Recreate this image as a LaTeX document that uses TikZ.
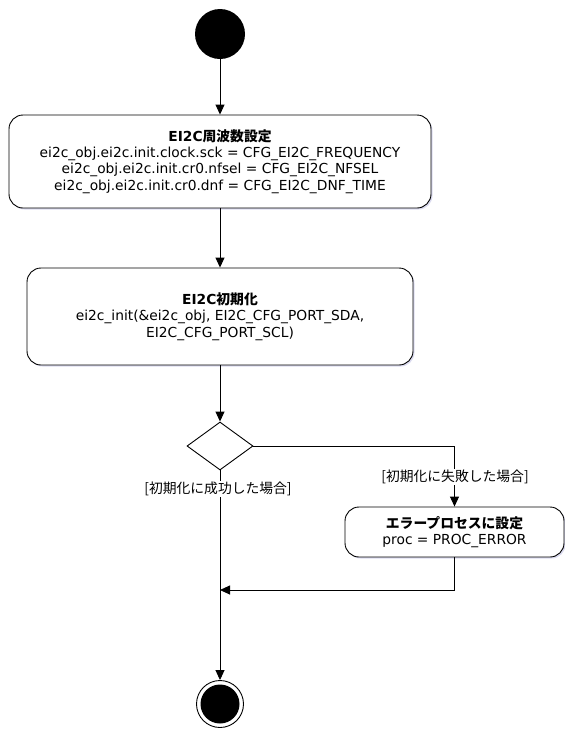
\documentclass[tikz,border=0pt]{standalone}
\usepackage{fontspec}
\setmainfont{DejaVu Sans}
\newfontfamily\jafont{Noto Sans CJK JP}
\usetikzlibrary{arrows.meta,shapes.geometric,shadows}
\newcommand{\ja}[1]{{\jafont #1}}

\begin{document}
\begin{tikzpicture}[x=1pt,y=-1pt,
    every node/.style={font=\fontsize{13.8}{16.3}\selectfont},
    action/.style={draw,line width=0.9pt,rounded corners=14pt,align=center,
      inner sep=0pt,fill=white,
      drop shadow={shadow xshift=1.5pt,shadow yshift=-1.5pt,fill=blue!40!gray,opacity=0.2}},
    flow/.style={line width=0.9pt,-{Triangle[length=10pt,width=9pt]}},
    guard/.style={fill=white,inner sep=1pt}]
  \useasboundingbox (0,0) rectangle (565,729);

  % start and end
  \node[circle,fill=black,minimum size=50pt,inner sep=0pt] (init) at (220,34) {};
  \node[circle,draw,line width=0.9pt,minimum size=47pt,inner sep=0pt] (final) at (220,704) {};
  \fill (final.center) circle (19.5pt);

  % actions
  \node[action,minimum width=422pt,minimum height=93pt] (freq) at (220,161.5)
    {\textbf{EI2C\ja{周波数設定}}\\
     ei2c\_obj.ei2c.init.clock.sck = CFG\_EI2C\_FREQUENCY\\
     ei2c\_obj.ei2c.init.cr0.nfsel = CFG\_EI2C\_NFSEL\\
     ei2c\_obj.ei2c.init.cr0.dnf = CFG\_EI2C\_DNF\_TIME};
  \node[action,minimum width=386pt,minimum height=97pt] (setup) at (220,316.5)
    {\textbf{EI2C\ja{初期化}}\\
     ei2c\_init(\&ei2c\_obj, EI2C\_CFG\_PORT\_SDA,\\
     EI2C\_CFG\_PORT\_SCL)};
  \node[diamond,draw,line width=0.9pt,minimum width=66pt,minimum height=48pt,
    inner sep=0pt] (check) at (220,446) {};
  \node[action,minimum width=219pt,minimum height=50pt] (error) at (454.5,532)
    {\textbf{\ja{エラープロセスに設定}}\\
     proc = PROC\_ERROR};
  \coordinate (join) at (220,590);

  % connectors
  \draw[flow] (init) -- (freq);
  \draw[flow] (freq) -- (setup);
  \draw[flow] (setup) -- (check);
  \draw[flow] (check.east) -| (error.north);
  \draw[flow] (check.south) -- (final);
  \draw[flow] (error.south) |- (join);

  % guards
  \node[guard] (failed) at (455,477) {\ja{[初期化に失敗した場合]}};
  \node[guard] (passed) at (218,489) {\ja{[初期化に成功した場合]}};
\end{tikzpicture}
\end{document}
